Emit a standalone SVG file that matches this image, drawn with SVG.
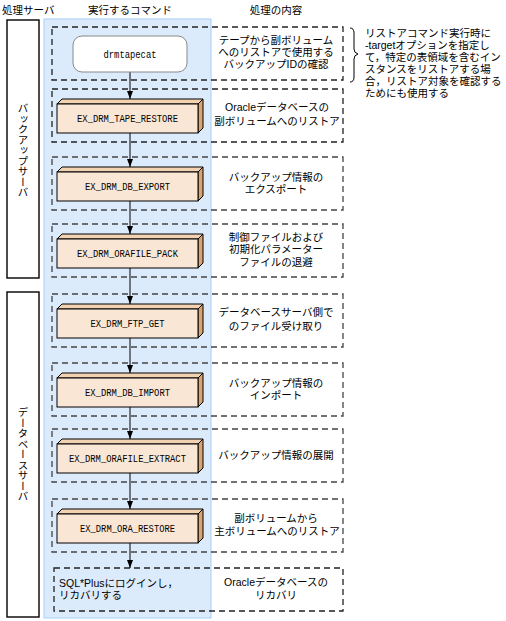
<svg xmlns="http://www.w3.org/2000/svg" width="506" height="621" viewBox="0 0 506 621">
<style>
text{font-family:"Liberation Sans","Noto Sans CJK JP",sans-serif;font-size:10.5px;fill:#000}
.c{text-anchor:middle}
.cmd{font-family:"Liberation Mono","DejaVu Sans Mono",monospace;font-size:10px;text-anchor:middle}
.dash{fill:none;stroke:#444;stroke-width:1.3;stroke-dasharray:6,4}
.front{fill:#f9e6d5;stroke:#000;stroke-width:1}
.top{fill:#f2d2b0;stroke:#000;stroke-width:1;stroke-linejoin:round}
.side{fill:#d9a46f;stroke:#000;stroke-width:1;stroke-linejoin:round}
.srv{fill:#fff;stroke:#000;stroke-width:1.4}
.arr{stroke:#000;stroke-width:1;fill:none;marker-end:url(#ah)}
.vt{font-family:"Noto Sans CJK JP",sans-serif;writing-mode:vertical-rl;font-size:10.5px}
</style>
<defs>
<marker id="ah" viewBox="0 0 10 10" refX="10" refY="5" markerWidth="8" markerHeight="6" preserveAspectRatio="none" markerUnits="userSpaceOnUse" orient="auto">
<path d="M0,0 L10,5 L0,10 z" fill="#000"/>
</marker>
</defs>
<rect width="506" height="621" fill="#fff"/>

<g id="headers">
<text x="2" y="14">処理サーバ</text>
<text x="130" y="14" class="c">実行するコマンド</text>
<text x="276" y="14" class="c">処理の内容</text>
</g>

<g id="server-backup">
<rect x="7" y="20" width="32" height="258" class="srv"/>
<text x="23" y="103" class="vt">バックアップサーバ</text>
</g>
<g id="server-db">
<rect x="7" y="292" width="32" height="325" class="srv"/>
<text x="23" y="407" class="vt">データベースサーバ</text>
</g>

<g id="command-lane">
<rect x="44" y="19" width="167" height="599" fill="#dcebfc" stroke="#a9cdf4" stroke-width="1"/>
</g>

<g id="step-frames">
<rect x="52" y="27" width="291" height="53" class="dash" style="stroke:#222"/>
<rect x="52" y="89" width="291" height="53" class="dash" style="stroke:#222"/>
<rect x="52" y="157" width="291" height="53" class="dash"/>
<rect x="52" y="224" width="291" height="53" class="dash"/>
<rect x="52" y="294" width="291" height="53" class="dash"/>
<rect x="52" y="363" width="291" height="53" class="dash"/>
<rect x="52" y="429" width="291" height="53" class="dash"/>
<rect x="52" y="499" width="291" height="53" class="dash"/>
<rect x="54" y="568" width="289" height="43" class="dash" style="stroke:#222"/>
</g>

<g id="connectors">
<line x1="130" y1="72" x2="130" y2="99" class="arr"/>
<line x1="130" y1="133" x2="130" y2="167" class="arr"/>
<line x1="130" y1="201" x2="130" y2="234" class="arr"/>
<line x1="130" y1="268" x2="130" y2="304" class="arr"/>
<line x1="130" y1="338" x2="130" y2="373" class="arr"/>
<line x1="130" y1="407" x2="130" y2="439" class="arr"/>
<line x1="130" y1="473" x2="130" y2="509" class="arr"/>
<line x1="130" y1="543" x2="130" y2="568" class="arr"/>
</g>

<g id="node-drmtapecat">
<rect x="73" y="36" width="114" height="36" rx="9" fill="#fff" stroke="#888" stroke-width="1"/>
<text x="130" y="58" class="cmd" textLength="53" lengthAdjust="spacingAndGlyphs">drmtapecat</text>
</g>

<g id="node-tape-restore">
<polygon points="57,104 62,99 203,99 198,104" class="top"/>
<polygon points="198,104 203,99 203,128 198,133" class="side"/>
<rect x="57" y="104" width="141" height="29" class="front"/>
<text x="127.5" y="122" class="cmd" textLength="101" lengthAdjust="spacingAndGlyphs">EX_DRM_TAPE_RESTORE</text>
</g>

<g id="node-db-export">
<polygon points="57,172 62,167 203,167 198,172" class="top"/>
<polygon points="198,172 203,167 203,196 198,201" class="side"/>
<rect x="57" y="172" width="141" height="29" class="front"/>
<text x="127.5" y="190" class="cmd" textLength="85" lengthAdjust="spacingAndGlyphs">EX_DRM_DB_EXPORT</text>
</g>

<g id="node-orafile-pack">
<polygon points="57,239 62,234 203,234 198,239" class="top"/>
<polygon points="198,239 203,234 203,263 198,268" class="side"/>
<rect x="57" y="239" width="141" height="29" class="front"/>
<text x="127.5" y="257" class="cmd" textLength="101" lengthAdjust="spacingAndGlyphs">EX_DRM_ORAFILE_PACK</text>
</g>

<g id="node-ftp-get">
<polygon points="57,309 62,304 203,304 198,309" class="top"/>
<polygon points="198,309 203,304 203,333 198,338" class="side"/>
<rect x="57" y="309" width="141" height="29" class="front"/>
<text x="127.5" y="327" class="cmd" textLength="74" lengthAdjust="spacingAndGlyphs">EX_DRM_FTP_GET</text>
</g>

<g id="node-db-import">
<polygon points="57,378 62,373 203,373 198,378" class="top"/>
<polygon points="198,378 203,373 203,402 198,407" class="side"/>
<rect x="57" y="378" width="141" height="29" class="front"/>
<text x="127.5" y="396" class="cmd" textLength="85" lengthAdjust="spacingAndGlyphs">EX_DRM_DB_IMPORT</text>
</g>

<g id="node-orafile-extract">
<polygon points="57,444 62,439 203,439 198,444" class="top"/>
<polygon points="198,444 203,439 203,468 198,473" class="side"/>
<rect x="57" y="444" width="141" height="29" class="front"/>
<text x="127.5" y="462" class="cmd" textLength="117" lengthAdjust="spacingAndGlyphs">EX_DRM_ORAFILE_EXTRACT</text>
</g>

<g id="node-ora-restore">
<polygon points="57,514 62,509 203,509 198,514" class="top"/>
<polygon points="198,514 203,509 203,538 198,543" class="side"/>
<rect x="57" y="514" width="141" height="29" class="front"/>
<text x="127.5" y="532" class="cmd" textLength="95" lengthAdjust="spacingAndGlyphs">EX_DRM_ORA_RESTORE</text>
</g>

<g id="node-sqlplus">
<text x="59" y="587">SQL*Plusにログインし，</text>
<text x="59" y="599">リカバリする</text>
</g>

<g id="descriptions">
<text x="276" y="44" class="c">テープから副ボリューム</text>
<text x="276" y="56" class="c">へのリストアで使用する</text>
<text x="276" y="68" class="c">バックアップIDの確認</text>
<text x="277" y="111" class="c">Oracleデータベースの</text>
<text x="277" y="125" class="c">副ボリュームへのリストア</text>
<text x="276" y="181" class="c">バックアップ情報の</text>
<text x="276" y="193" class="c">エクスポート</text>
<text x="276" y="241" class="c">制御ファイルおよび</text>
<text x="276" y="253" class="c">初期化パラメーター</text>
<text x="276" y="266" class="c">ファイルの退避</text>
<text x="276" y="316" class="c">データベースサーバ側で</text>
<text x="276" y="330" class="c">のファイル受け取り</text>
<text x="276" y="387" class="c">バックアップ情報の</text>
<text x="276" y="399" class="c">インポート</text>
<text x="276" y="459" class="c">バックアップ情報の展開</text>
<text x="276" y="522" class="c">副ボリュームから</text>
<text x="277" y="535" class="c">主ボリュームへのリストア</text>
<text x="276" y="586" class="c">Oracleデータベースの</text>
<text x="276" y="599" class="c">リカバリ</text>
</g>

<g id="note">
<path d="M350,28 Q354,28 354,33 L354,49 Q354,53 358,54 Q354,55 354,59 L354,77 Q354,82 350,82" fill="none" stroke="#000" stroke-width="1"/>
<text x="365" y="37">リストアコマンド実行時に</text>
<text x="365" y="49">-targetオプションを指定し</text>
<text x="365" y="61">て，特定の表領域を含むイン</text>
<text x="365" y="73">スタンスをリストアする場</text>
<text x="365" y="85">合，リストア対象を確認する</text>
<text x="365" y="97">ためにも使用する</text>
</g>
</svg>
